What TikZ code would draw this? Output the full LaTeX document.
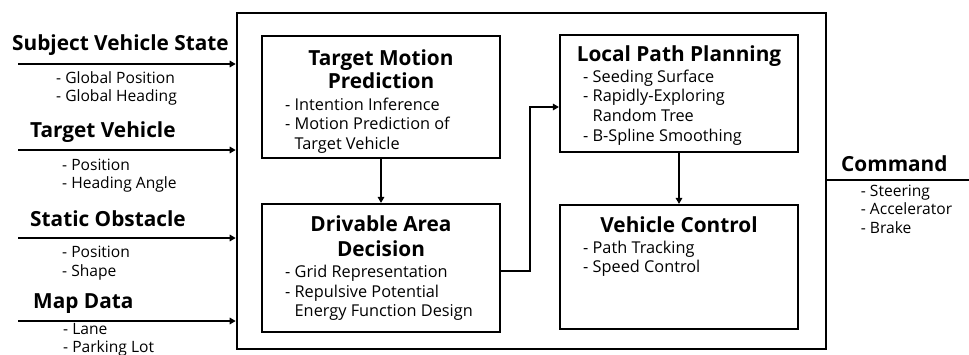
\documentclass[tikz,border=0pt]{standalone}
\usepackage{fontspec}
\setmainfont{Open Sans}
\usetikzlibrary{arrows.meta}

\begin{document}
\begin{tikzpicture}[x=1pt, y=-1pt,
  frame/.style={draw, line width=2.6pt, inner sep=0pt},
  block/.style={draw, line width=2.2pt, inner sep=0pt, minimum width=238pt},
  heading/.style={font=\bfseries\fontsize{20.8}{23.3}\selectfont, align=center, inner sep=0pt, anchor=base},
  items/.style={font=\fontsize{16.3}{19.6}\selectfont, align=left, inner sep=0pt, anchor=base west},
  label/.style={font=\bfseries\fontsize{20.8}{23}\selectfont, inner sep=0pt, anchor=base west},
  sublist/.style={font=\fontsize{15.6}{18.3}\selectfont, align=left, inner sep=0pt, anchor=base west},
  flow/.style={-{Triangle[length=6pt, width=6.5pt]}, line width=1.6pt},
  plain/.style={line width=1.6pt}]
\useasboundingbox (0,0) rectangle (969,354);

% main processing frame
\node[frame, minimum width=589pt, minimum height=336pt] (frame) at (531.5,181) {};

% processing blocks
\node[block, minimum height=122pt] (tmp) at (381,97) {};
\node[block, minimum height=128pt] (dad) at (381,268) {};
\node[block, minimum height=117pt] (lpp) at (679,93.5) {};
\node[block, minimum height=124pt] (vc)  at (679,267) {};

% block texts (anchored on the baseline of their last line)
\node[heading] (tmpT) at (381,88.3) {Target Motion\\Prediction};
\node[items] (tmpL) at (285,149.3) {- Intention Inference\\- Motion Prediction of\\\phantom{- }Target Vehicle};

\node[heading] (dadT) at (381,256.3) {Drivable Area\\[1.7pt]Decision};
\node[items] (dadL) at (285,316.7) {- Grid Representation\\- Repulsive Potential\\\phantom{- }Energy Function Design};

\node[heading] (lppT) at (679,61.7) {Local Path Planning};
\node[items] (lppL) at (583,141) {- Seeding Surface\\- Rapidly-Exploring\\\phantom{- }Random Tree\\- B-Spline Smoothing};

\node[heading] (vcT) at (679,232.3) {Vehicle Control};
\node[items] (vcL) at (583,272.7) {- Path Tracking\\- Speed Control};

% inputs
\node[label] (svs) at (12,50.7) {Subject Vehicle State};
\node[sublist] (svsL) at (56,101.7) {- Global Position\\- Global Heading};
\node[label] (tv) at (30,137.7) {Target Vehicle};
\node[sublist] (tvL) at (62,188.3) {- Position\\- Heading Angle};
\node[label] (so) at (30,226) {Static Obstacle};
\node[sublist] (soL) at (62,276) {- Position\\- Shape};
\node[label] (md) at (33,308.3) {Map Data};
\node[sublist] (mdL) at (63,352.3) {- Lane\\- Parking Lot};

\coordinate (in1) at (18,64);
\coordinate (in2) at (18,150);
\coordinate (in3) at (18,238);
\coordinate (in4) at (18,321);
\foreach \c in {in1,in2,in3,in4}
  \draw[flow] (\c) -- (\c -| frame.west);

% output
\node[label] (cmd) at (841,171.7) {Command};
\node[sublist] (cmdL) at (860.7,233) {- Steering\\- Accelerator\\- Brake};
\coordinate (out) at (969,180);
\draw[plain] (frame.east |- out) -- (out);

% internal flow
\draw[flow] (tmp) -- (dad);
\draw[flow] (lpp) -- (vc);
\coordinate (bend) at (530,271);
\draw[flow] (dad.east |- bend) -- (bend) |- (lpp.west |- 0,107);
\end{tikzpicture}
\end{document}
